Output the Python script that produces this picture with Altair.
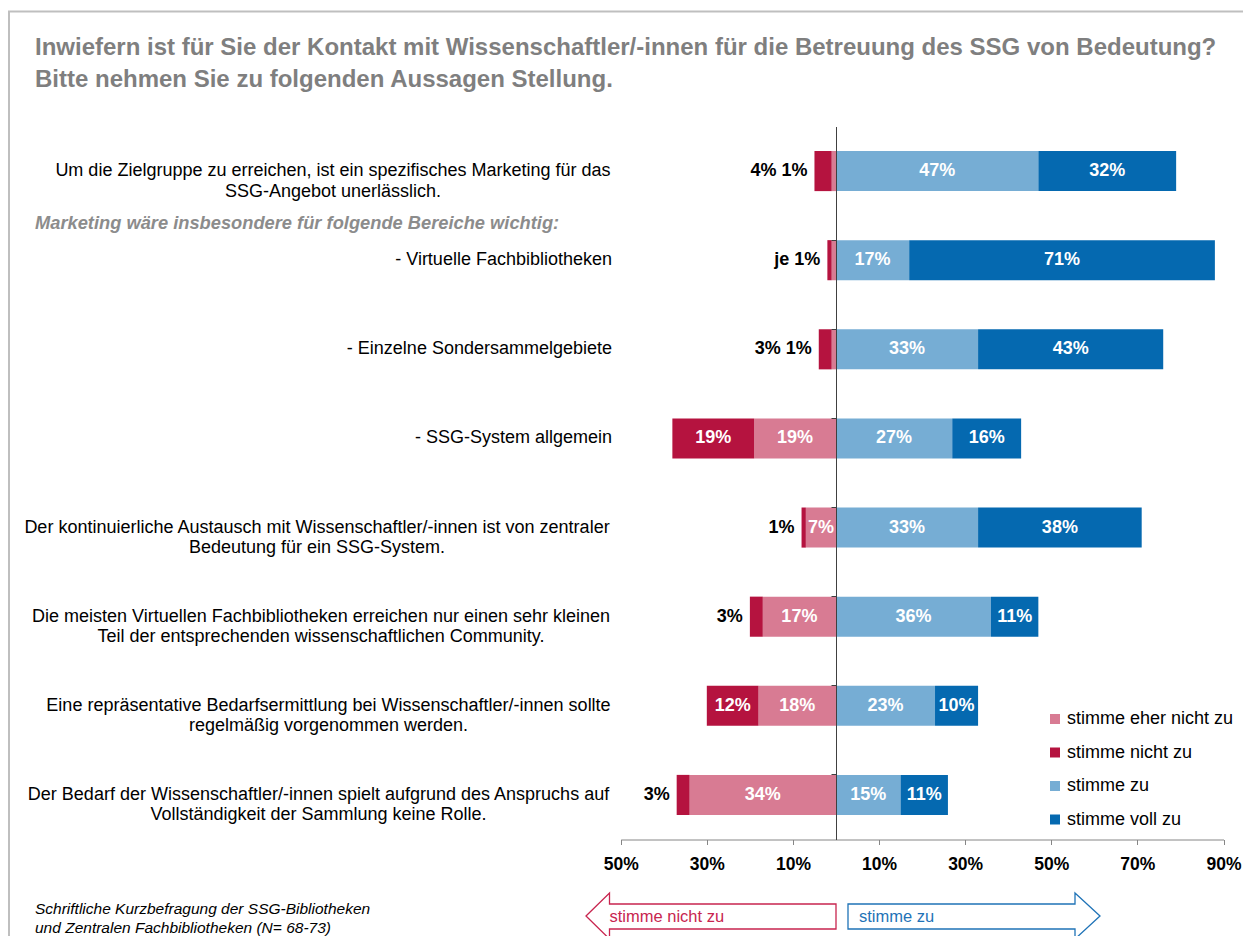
import altair as alt
import pandas as pd

# ---------------- data ----------------
STATEMENTS = [
    "Um die Zielgruppe zu erreichen, ist ein spezifisches Marketing für das\nSSG-Angebot unerlässlich.",
    "- Virtuelle Fachbibliotheken",
    "- Einzelne Sondersammelgebiete",
    "- SSG-System allgemein",
    "Der kontinuierliche Austausch mit Wissenschaftler/-innen ist von zentraler\nBedeutung für ein SSG-System.",
    "Die meisten Virtuellen Fachbibliotheken erreichen nur einen sehr kleinen\nTeil der entsprechenden wissenschaftlichen Community.",
    "Eine repräsentative Bedarfsermittlung bei Wissenschaftler/-innen sollte\nregelmäßig vorgenommen werden.",
    "Der Bedarf der Wissenschaftler/-innen spielt aufgrund des Anspruchs auf\nVollständigkeit der Sammlung keine Rolle.",
]
NICHT = [4, 1, 3, 19, 1, 3, 12, 3]          # stimme nicht zu
EHER_NICHT = [1, 1, 1, 19, 7, 17, 18, 34]    # stimme eher nicht zu
ZU = [47, 17, 33, 27, 33, 36, 23, 15]        # stimme zu
VOLL = [32, 71, 43, 16, 38, 11, 10, 11]      # stimme voll zu
OUTSIDE_LABELS = ["4% 1%", "je 1%", "3% 1%", "", "1%", "3%", "", "3%"]

SERIES = ["stimme eher nicht zu", "stimme nicht zu", "stimme zu", "stimme voll zu"]
COLORS = ["#D87B93", "#B5133F", "#76ADD4", "#0569B0"]
X_TICKS = [-50, -30, -10, 10, 30, 50, 70, 90]

TITLE_LINES = [
    "Inwiefern ist für Sie der Kontakt mit Wissenschaftler/-innen für die Betreuung des SSG von Bedeutung?",
    "Bitte nehmen Sie zu folgenden Aussagen Stellung.",
]
SUBHEADING = "Marketing wäre insbesondere für folgende Bereiche wichtig:"
FOOTNOTE_LINES = [
    "Schriftliche Kurzbefragung der SSG-Bibliotheken",
    "und Zentralen Fachbibliotheken (N= 68-73)",
]
ARROW_LEFT_TEXT = "stimme nicht zu"
ARROW_RIGHT_TEXT = "stimme zu"

# ---------------- layout (pixels, chart coordinates) ----------------
W, H = 1235, 928
X_RANGE = [612.7, 1215.5]
Y_RANGE = [118.5, 831.5]
ZERO_PX = 828
FONT = "Liberation Sans"
LABEL_RIGHT = 604
LABEL_SIZE = 18
TWO_LINE_CENTER = {0: 325, 4: 309, 5: 313, 6: 320.5, 7: 310.5}

# ---------------- tables ----------------
rows = []
for s, n, e, z, v in zip(STATEMENTS, NICHT, EHER_NICHT, ZU, VOLL):
    rows.append(dict(stmt=s, series=SERIES[0], x0=-e, x1=0, val=e))
    rows.append(dict(stmt=s, series=SERIES[1], x0=-(e + n), x1=-e, val=n))
    rows.append(dict(stmt=s, series=SERIES[2], x0=0, x1=z, val=z))
    rows.append(dict(stmt=s, series=SERIES[3], x0=z, x1=z + v, val=v))
seg = pd.DataFrame(rows)
seg["mid"] = (seg["x0"] + seg["x1"]) / 2
seg["label"] = seg["val"].astype(int).astype(str) + "%"
inside = seg[seg["val"] >= 5]

outside = pd.DataFrame({
    "stmt": STATEMENTS,
    "left": [-(n + e) for n, e in zip(NICHT, EHER_NICHT)],
    "text": OUTSIDE_LABELS,
})
outside = outside[outside["text"] != ""]

single = pd.DataFrame({"stmt": [s for s in STATEMENTS if "\n" not in s]})
double = pd.DataFrame({
    "stmt": [s for i, s in enumerate(STATEMENTS) if "\n" in s],
    "cx": [TWO_LINE_CENTER[i] for i, s in enumerate(STATEMENTS) if "\n" in s],
})

x_scale = alt.Scale(domain=[-50, 90], range=X_RANGE, nice=False, zero=False)
y_scale = alt.Scale(domain=STATEMENTS, range=Y_RANGE, paddingInner=0.55, paddingOuter=0.275)

X_AXIS = alt.Axis(
    values=X_TICKS, labelExpr="abs(datum.value) + '%'", title=None, grid=False,
    offset=-(H - Y_RANGE[1]), labelFont=FONT, labelFontWeight="bold", labelFontSize=17.5,
    labelColor="black", tickColor="#868686", domainColor="#868686", tickSize=5,
    labelPadding=11, labelFlush=False, labelOverlap=False)
Y_AXIS = alt.Axis(
    labels=False, title=None, values=STATEMENTS[1:], bandPosition=0, offset=-ZERO_PX,
    tickSize=5, tickColor="#404040", domainColor="#404040", domainWidth=1, grid=False, zindex=1)

bars = alt.Chart(seg).mark_bar().encode(
    x=alt.X("x0:Q", scale=x_scale, axis=X_AXIS),
    x2="x1:Q",
    y=alt.Y("stmt:N", scale=y_scale, axis=Y_AXIS),
    color=alt.Color("series:N", scale=alt.Scale(domain=SERIES, range=COLORS), legend=alt.Legend(
        orient="none", legendX=1038, legendY=702, title=None, symbolType="square",
        symbolSize=100, symbolStrokeWidth=0, labelFont=FONT, labelFontSize=18,
        labelColor="black", rowPadding=15.5, labelOffset=3, padding=0, labelLimit=0)),
)

inside_text = alt.Chart(inside).mark_text(
    color="white", fontWeight="bold", fontSize=18, font=FONT
).encode(
    x=alt.X("mid:Q", scale=x_scale, axis=X_AXIS),
    y=alt.Y("stmt:N", scale=y_scale, axis=Y_AXIS),
    text="label:N",
)

outside_text = alt.Chart(outside).mark_text(
    color="black", fontWeight="bold", fontSize=18, font=FONT, align="right", dx=-7
).encode(
    x=alt.X("left:Q", scale=x_scale, axis=X_AXIS),
    y=alt.Y("stmt:N", scale=y_scale, axis=Y_AXIS),
    text="text:N",
)

single_labels = alt.Chart(single).mark_text(
    color="black", fontSize=LABEL_SIZE, font=FONT, align="right"
).encode(
    x=alt.value(LABEL_RIGHT),
    y=alt.Y("stmt:N", scale=y_scale, axis=Y_AXIS),
    text="stmt:N",
)

double_labels = alt.Chart(double).mark_text(
    color="black", fontSize=LABEL_SIZE, font=FONT, align="center", baseline="middle",
    lineBreak="\n", lineHeight=20.5
).encode(
    x=alt.X("cx:Q", scale=None),
    y=alt.Y("stmt:N", scale=y_scale, axis=Y_AXIS),
    text="stmt:N",
)

title_df = pd.DataFrame({"t": TITLE_LINES, "py": [40, 72]})
title = alt.Chart(title_df).mark_text(
    color="#7F7F7F", fontWeight="bold", fontSize=24, font=FONT, align="left", baseline="middle"
).encode(x=alt.value(27), y=alt.Y("py:Q", scale=None), text="t:N")

sub = alt.Chart(pd.DataFrame({"t": [SUBHEADING]})).mark_text(
    color="#8C8C8C", fontWeight="bold", fontStyle="italic", fontSize=18.3, font=FONT,
    align="left", baseline="middle"
).encode(x=alt.value(27), y=alt.value(216), text="t:N")

foot_df = pd.DataFrame({"t": FOOTNOTE_LINES, "py": [901, 920]})
foot = alt.Chart(foot_df).mark_text(
    color="black", fontStyle="italic", fontSize=15.5, font=FONT, align="left", baseline="middle"
).encode(x=alt.value(27), y=alt.Y("py:Q", scale=None), text="t:N")

LEFT_ARROW = "M-1.25,0 L-1.015,-0.23 L-1.015,-0.12 L1.25,-0.12 L1.25,0.13 L-1.015,0.13 L-1.015,0.23 Z"
RIGHT_ARROW = "M1.26,0 L1.01,-0.23 L1.01,-0.12 L-1.26,-0.12 L-1.26,0.13 L1.01,0.13 L1.01,0.23 Z"

arrow_df = pd.DataFrame({"a": [0]})
arrow_l = alt.Chart(arrow_df).mark_point(
    shape=LEFT_ARROW, filled=False, size=40000, strokeWidth=1.3, color="#C8254F", opacity=1
).encode(x=alt.value(703), y=alt.value(908))
arrow_r = alt.Chart(arrow_df).mark_point(
    shape=RIGHT_ARROW, filled=False, size=40000, strokeWidth=1.3, color="#1F73B7", opacity=1
).encode(x=alt.value(966), y=alt.value(908))

arrow_lt = alt.Chart(pd.DataFrame({"t": [ARROW_LEFT_TEXT]})).mark_text(
    color="#C8254F", fontSize=16.5, font=FONT, align="left", baseline="middle"
).encode(x=alt.value(601.5), y=alt.value(909), text="t:N")
arrow_rt = alt.Chart(pd.DataFrame({"t": [ARROW_RIGHT_TEXT]})).mark_text(
    color="#1F73B7", fontSize=16.5, font=FONT, align="left", baseline="middle"
).encode(x=alt.value(851), y=alt.value(909), text="t:N")

frame_top = alt.Chart(arrow_df).mark_rule(color="#BFBFBF", strokeWidth=2).encode(
    x=alt.value(0), x2=alt.value(W), y=alt.value(3.5))
frame_left = alt.Chart(arrow_df).mark_rule(color="#BFBFBF", strokeWidth=2).encode(
    x=alt.value(1), y=alt.value(3.5), y2=alt.value(H))

chart = alt.layer(
    frame_top, frame_left, bars, inside_text, outside_text, single_labels, double_labels,
    title, sub, foot, arrow_l, arrow_r, arrow_lt, arrow_rt,
).properties(
    width=W, height=H, autosize=alt.AutoSizeParams(type="none"), padding=0,
).configure_view(stroke=None)

chart.save("out.html", embed_options={"renderer": "svg", "actions": False})
